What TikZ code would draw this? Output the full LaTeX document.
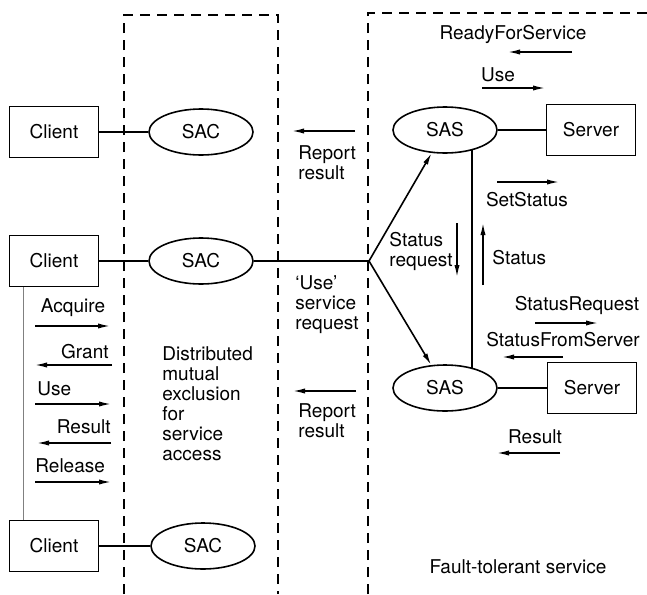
\documentclass[tikz,border=0pt]{standalone}
\usepackage{fontspec}
\setmainfont{TeX Gyre Heros}
\usetikzlibrary{arrows.meta,shapes.geometric}

\begin{document}
\begin{tikzpicture}[x=0.5pt,y=-0.5pt,font=\fontsize{9.5}{10}\selectfont,
    box/.style={draw,line width=0.9pt,minimum width=44.5pt,minimum height=25.5pt},
    proc/.style={draw,ellipse,line width=0.8pt,minimum width=52pt,minimum height=23pt,inner sep=0pt},
    msg/.style={-{Latex[length=6pt,width=2.6pt]},line width=0.7pt},
    region/.style={line width=0.9pt,dash pattern=on 5pt off 3.5pt},
    lbl/.style={inner sep=0pt,align=left}]
  \useasboundingbox (0,0) rectangle (647,594);

  % the two regions
  \draw[region] (124,594) -- (124,15) -- (278,15) -- (278,594);
  \draw[region] (368,594) -- (368,13) -- (647,13);

  % clients and their agents
  \node[box] (c1) at (54,132) {Client};
  \node[box] (c2) at (54,261) {Client};
  \node[box] (c3) at (54,546) {Client};
  \node[proc] (sac1) at (201,132) {SAC};
  \node[proc] (sac2) at (201,261) {SAC};
  \node[proc] (sac3) at (203,546) {SAC};
  \draw[line width=0.8pt] (c1) -- (sac1);
  \draw[line width=0.8pt] (c2) -- (sac2);
  \draw[line width=0.8pt] (c3) -- (sac3);
  \draw[gray,line width=0.3pt] (c2.south -| 23,0) -- (c3.north -| 23,0);

  % servers and their agents
  \node[proc] (sas1) at (445,130) {SAS};
  \node[proc] (sas2) at (445,388) {SAS};
  \node[box] (srv1) at (591,130) {Server};
  \node[box] (srv2) at (592,388) {Server};
  \draw[line width=0.8pt] (sas1) -- (srv1);
  \draw[line width=0.8pt] (sas2) -- (srv2);
  \draw[line width=0.8pt] (sas1.-37) -- (sas2.37);

  \coordinate (fork) at (369,261);
  \draw[line width=0.8pt] (sac2) -- (fork);
  \draw[msg,line width=0.8pt] (fork) -- (sas1);
  \draw[msg,line width=0.8pt] (fork) -- (sas2);

  % messages, client side
  \node[lbl] (acq) at (73,308) {Acquire};
  \draw[msg] (35,326) -- (110,326);
  \node[lbl,anchor=east] (grant) at (109,352) {Grant};
  \draw[msg] (112,365) -- (35,365);
  \node[lbl,anchor=west] (use1) at (37,389) {Use};
  \draw[msg] (35,404) -- (111,404);
  \node[lbl,anchor=east] (res1) at (111,427) {Result};
  \draw[msg] (111,443) -- (37,443);
  \node[lbl,anchor=west] (rel) at (35,466) {Release};
  \draw[msg] (35,482) -- (111,482);
  \node[lbl,anchor=west] (dme) at (162,404) {Distributed\\mutual\\exclusion\\for\\service\\access};

  % messages between regions
  \draw[msg] (355,131) -- (292,131);
  \node[lbl,anchor=west] (rep1) at (298,163) {Report\\result};
  \draw[msg] (356,391) -- (293,391);
  \node[lbl,anchor=west] (rep2) at (298,421) {Report\\result};
  \node[lbl,anchor=west] (usereq) at (295,305) {`Use'\\service\\request};

  % messages, server side
  \node[lbl] (rfs) at (513,34) {ReadyForService};
  \draw[msg] (572,52) -- (508,52);
  \node[lbl] (use2) at (498,75) {Use};
  \draw[msg] (482,88) -- (545,88);
  \draw[msg] (497,182) -- (559,182);
  \node[lbl] (sets) at (527,200) {SetStatus};
  \node[lbl,anchor=west] (streq) at (389,251) {Status\\request};
  \draw[msg] (457,223) -- (457,277);
  \draw[msg] (483,285) -- (483,223);
  \node[lbl,anchor=west] (st) at (492,258) {Status};
  \node[lbl] (sreq) at (577,305) {StatusRequest};
  \draw[msg] (535,323) -- (598,323);
  \node[lbl] (sfs) at (563,340) {StatusFromServer};
  \draw[msg] (563,357) -- (502,357);
  \node[lbl] (res2) at (535,437) {Result};
  \draw[msg] (560,453) -- (497,453);
  \node[lbl] (fts) at (518,567) {Fault-tolerant service};
\end{tikzpicture}
\end{document}
